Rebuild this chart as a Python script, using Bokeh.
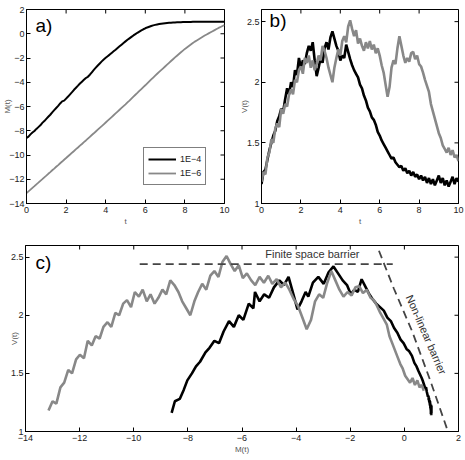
import numpy as np
from bokeh.plotting import figure
from bokeh.layouts import column, row
from bokeh.models import FixedTicker, Label
from bokeh.embed import file_html
from bokeh.resources import INLINE

FONT = "Liberation Sans"

# sample times (0 to 10, step 0.1)
t = np.round(np.arange(101) * 0.1, 1)

# M(t) for the two thresholds
m_1e4 = [-8.60, -8.48, -8.30, -8.15, -8.02, -7.85, -7.70, -7.55, -7.35, -7.20,
         -7.02, -6.85, -6.68, -6.48, -6.30, -6.12, -5.95, -5.75, -5.58, -5.52,
         -5.35, -5.18, -5.00, -4.82, -4.62, -4.45, -4.28, -4.10, -3.95, -3.80,
         -3.65, -3.55, -3.38, -3.18, -2.98, -2.80, -2.62, -2.45, -2.28, -2.12,
         -1.98, -1.85, -1.72, -1.58, -1.45, -1.32, -1.18, -1.04, -0.90, -0.76,
         -0.63, -0.50, -0.38, -0.26, -0.14, -0.03, 0.08, 0.18, 0.28, 0.37,
         0.45, 0.52, 0.58, 0.64, 0.69, 0.73, 0.77, 0.80, 0.83, 0.85,
         0.87, 0.89, 0.90, 0.91, 0.92, 0.93, 0.94, 0.95, 0.95, 0.96,
         0.96, 0.97, 0.97, 0.97, 0.98, 0.98, 0.98, 0.98, 0.98, 0.99,
         0.99, 0.99, 0.99, 0.99, 0.99, 0.99, 1.00, 1.00, 1.00, 1.00, 1.00]
m_1e6 = [-13.15, -13.00, -12.86, -12.71, -12.57, -12.42, -12.28, -12.13, -11.99, -11.84,
         -11.70, -11.55, -11.41, -11.26, -11.12, -10.97, -10.83, -10.68, -10.54, -10.39,
         -10.25, -10.10, -9.96, -9.81, -9.67, -9.52, -9.38, -9.23, -9.09, -8.94,
         -8.80, -8.65, -8.50, -8.35, -8.21, -8.06, -7.91, -7.76, -7.62, -7.47,
         -7.32, -7.17, -7.02, -6.87, -6.72, -6.57, -6.42, -6.27, -6.12, -5.97,
         -5.82, -5.66, -5.51, -5.35, -5.19, -5.03, -4.88, -4.72, -4.56, -4.40,
         -4.25, -4.09, -3.93, -3.77, -3.61, -3.45, -3.30, -3.15, -3.00, -2.85,
         -2.70, -2.55, -2.40, -2.25, -2.10, -1.95, -1.81, -1.67, -1.53, -1.39,
         -1.25, -1.13, -1.01, -0.89, -0.77, -0.65, -0.55, -0.45, -0.35, -0.25,
         -0.15, -0.06, 0.03, 0.12, 0.21, 0.30, 0.39, 0.48, 0.56, 0.64, 0.72]

# V(t) for the two thresholds
v_1e4 = [1.16, 1.26, 1.28, 1.36, 1.44, 1.50, 1.56, 1.60, 1.68, 1.72,
         1.78, 1.76, 1.86, 1.95, 1.90, 2.00, 1.96, 2.10, 2.06, 2.20,
         2.12, 2.18, 2.15, 2.24, 2.30, 2.26, 2.33, 2.18, 2.05, 2.12,
         2.20, 2.16, 2.28, 2.33, 2.27, 2.37, 2.42, 2.36, 2.30, 2.26,
         2.18, 2.22, 2.20, 2.31, 2.25, 2.19, 2.14, 2.10, 2.07, 2.04,
         1.98, 1.95, 1.89, 1.85, 1.79, 1.76, 1.71, 1.69, 1.65, 1.59,
         1.56, 1.52, 1.49, 1.46, 1.43, 1.40, 1.37, 1.38, 1.34, 1.32,
         1.30, 1.31, 1.27, 1.29, 1.25, 1.27, 1.23, 1.26, 1.22, 1.24,
         1.20, 1.23, 1.19, 1.22, 1.17, 1.21, 1.16, 1.20, 1.15, 1.19,
         1.23, 1.17, 1.21, 1.15, 1.19, 1.14, 1.18, 1.22, 1.16, 1.21, 1.18]
v_1e6 = [1.18, 1.26, 1.24, 1.38, 1.42, 1.53, 1.50, 1.62, 1.66, 1.63,
         1.78, 1.74, 1.82, 1.80, 1.90, 1.94, 1.90, 2.02, 2.00, 2.10,
         2.13, 2.07, 2.20, 2.16, 2.22, 2.12, 2.18, 2.10, 2.15, 2.22,
         2.18, 2.30, 2.26, 2.20, 2.12, 2.06, 2.00, 2.12, 2.20, 2.27,
         2.22, 2.34, 2.38, 2.33, 2.46, 2.51, 2.44, 2.38, 2.43, 2.32,
         2.36, 2.30, 2.26, 2.33, 2.28, 2.34, 2.27, 2.31, 2.24, 2.28,
         2.22, 2.14, 2.08, 1.98, 1.88, 1.96, 2.12, 2.18, 2.15, 2.28,
         2.38, 2.30, 2.22, 2.16, 2.20, 2.17, 2.24, 2.25, 2.19, 2.22,
         2.15, 2.13, 2.08, 2.02, 1.97, 1.92, 1.82, 1.76, 1.70, 1.64,
         1.58, 1.54, 1.48, 1.45, 1.42, 1.46, 1.40, 1.44, 1.38, 1.40, 1.35]

series_labels = ["1E\u22124", "1E\u22126"]

# barriers in the (M, V) plane
finite_m = [-9.78, -0.43]
finite_v = [2.44, 2.44]
nonlin_m = [-0.94, -0.39, 0.29, 0.97, 1.58]
nonlin_v = [2.555, 2.23, 1.86, 1.43, 1.02]

# axis limits and tick positions
t_lim = (0, 10)
m_lim_a = (-14, 2)
v_lim = (1, 2.6)
m_lim_c = (-14, 2)
t_ticks = [0, 2, 4, 6, 8, 10]
m_ticks_a = [-14, -12, -10, -8, -6, -4, -2, 0, 2]
v_ticks = [1, 1.5, 2, 2.5]
m_ticks_c = [-14, -12, -10, -8, -6, -4, -2, 0, 2]

BLACK = "#000000"
GRAY = "#888888"
TXT = "#222222"
LBL = "#555555"


def fmt(v):
    return ("%g" % v).replace("-", "\u2212")


def style(p, xt, yt, xlim, ylim, xlabel, ylabel, ystand):
    p.outline_line_color = "black"
    p.outline_line_width = 1
    p.xgrid.visible = False
    p.ygrid.visible = False
    p.background_fill_color = "white"
    p.border_fill_color = "white"
    for ax, ticks, lab in ((p.xaxis[0], xt, xlabel), (p.yaxis[0], yt, ylabel)):
        ax.ticker = FixedTicker(ticks=ticks)
        ax.major_label_overrides = {k: fmt(k) for k in ticks}
        ax.major_tick_in = 4
        ax.major_tick_out = 0
        ax.minor_tick_line_color = None
        ax.axis_line_color = "black"
        ax.major_tick_line_color = "black"
        ax.major_label_text_font = FONT
        ax.major_label_text_font_size = "9px"
        ax.major_label_text_color = TXT
        ax.major_label_standoff = 3
        ax.axis_label = lab
        ax.axis_label_text_font = FONT
        ax.axis_label_text_font_size = "8px"
        ax.axis_label_text_font_style = "normal"
        ax.axis_label_text_color = LBL
    p.xaxis[0].axis_label_standoff = 1
    p.yaxis[0].major_label_standoff = 2
    p.yaxis[0].axis_label_standoff = ystand
    # inward tick marks mirrored on the top and right edges of the box
    p.scatter(xt, [ylim[1]] * len(xt), marker="dash", size=8, angle=np.pi / 2,
              line_color="black", line_width=1)
    p.scatter([xlim[1]] * len(yt), yt, marker="dash", size=8,
              line_color="black", line_width=1)


def panel_label(p, x, y, txt):
    p.add_layout(Label(x=x, y=y, text=txt, text_font=FONT, text_font_size="19px",
                       text_color="black", text_baseline="middle", text_align="left"))


# ---- a) M(t) ----
pa = figure(width=232, height=230, x_range=t_lim, y_range=m_lim_a,
            output_backend="svg", toolbar_location=None,
            min_border_left=26, min_border_right=8, min_border_top=9, min_border_bottom=26)
pa.line(t, m_1e4, color=BLACK, line_width=2, legend_label=series_labels[0])
pa.line(t, m_1e6, color=GRAY, line_width=1.8, legend_label=series_labels[1])
style(pa, t_ticks, m_ticks_a, t_lim, m_lim_a, "t", "M(t)", -6)
panel_label(pa, 0.45, 0.69, "a)")
lg = pa.legend[0]
lg.location = (117, 18)
lg.border_line_color = "black"
lg.border_line_width = 1
lg.background_fill_alpha = 1
lg.padding = 4
lg.spacing = 0
lg.margin = 0
lg.glyph_width = 28
lg.glyph_height = 14
lg.label_height = 14
lg.label_standoff = 4
lg.label_text_font = FONT
lg.label_text_font_size = "9px"
lg.label_text_color = TXT

# ---- b) V(t) ----
pb = figure(width=233, height=230, x_range=t_lim, y_range=v_lim,
            output_backend="svg", toolbar_location=None,
            min_border_left=29, min_border_right=7, min_border_top=9, min_border_bottom=27)
pb.line(t, v_1e4, color=BLACK, line_width=2.6)
pb.line(t, v_1e6, color=GRAY, line_width=2.6)
style(pb, t_ticks, v_ticks, t_lim, v_lim, "t", "V(t)", -5)
panel_label(pb, 0.41, 2.51, "b)")

# ---- c) V against M ----
pc = figure(width=465, height=230, x_range=m_lim_c, y_range=v_lim,
            output_backend="svg", toolbar_location=None,
            min_border_left=25, min_border_right=7, min_border_top=15, min_border_bottom=29)
pc.line(m_1e4, v_1e4, color=BLACK, line_width=2.6)
pc.line(m_1e6, v_1e6, color=GRAY, line_width=2.6)
pc.line(finite_m, finite_v, color="#444444", line_width=1.8, line_dash="8 5")
pc.line(nonlin_m, nonlin_v, color="#444444", line_width=1.8, line_dash="8 5")
style(pc, m_ticks_c, v_ticks, m_lim_c, v_lim, "M(t)", "V(t)", -11)
panel_label(pc, -13.63, 2.454, "c)")
pc.add_layout(Label(x=-3.40, y=2.53, text="Finite space barrier", text_font=FONT,
                    text_font_size="11px", text_color="#333333",
                    text_align="center", text_baseline="middle"))
pc.add_layout(Label(x=0.81, y=1.834, text="Non-linear barrier", text_font=FONT,
                    text_font_size="11px", text_color="#333333", angle=-1.16,
                    text_align="center", text_baseline="middle"))

layout = column(row(pa, pb), pc)
open("out.html", "w").write(file_html(layout, INLINE))
